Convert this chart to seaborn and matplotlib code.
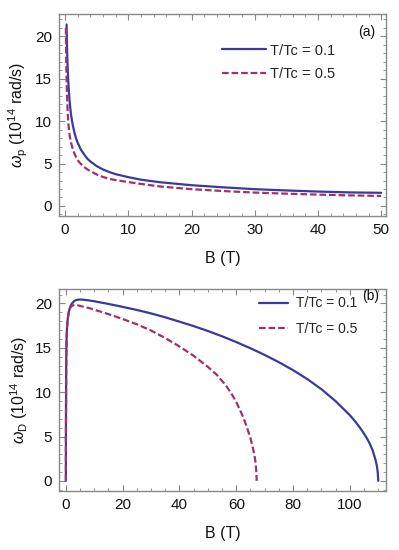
import numpy as np
import matplotlib
matplotlib.use('Agg')
import matplotlib.pyplot as plt
from matplotlib.ticker import MultipleLocator
import seaborn as sns

sns.set_style('ticks')
plt.rcParams['font.family'] = ['Liberation Sans', 'DejaVu Sans']
plt.rcParams['mathtext.fontset'] = 'custom'
plt.rcParams['mathtext.rm'] = 'Liberation Sans'
plt.rcParams['mathtext.it'] = 'Liberation Sans:italic'

# panel (a): plasma frequency vs B
b_a_solid = [0.24, 0.27, 0.3, 0.35, 0.4, 0.45, 0.5, 0.6, 0.7, 0.8, 0.9, 1, 1.2,
             1.5, 1.75, 2, 2.5, 3, 3.5, 4, 5, 6, 7, 8, 10, 12, 15, 20, 25, 30,
             35, 40, 45, 50]
wp_solid = [21.4, 20.2, 19.2, 17.75, 16.6, 15.65, 14.85, 13.55, 12.55, 11.75,
            11.05, 10.5, 9.6, 8.6, 7.95, 7.45, 6.65, 6.1, 5.6, 5.25, 4.7, 4.3,
            4.0, 3.75, 3.4, 3.1, 2.8, 2.45, 2.2, 1.98, 1.83, 1.7, 1.6, 1.55]
b_a_dash = [0.13, 0.15, 0.17, 0.2, 0.25, 0.3, 0.35, 0.4, 0.5, 0.6, 0.75, 1,
            1.25, 1.5, 2, 2.5, 3, 3.5, 4, 5, 6, 7, 8, 10, 12, 15, 20, 25, 30,
            35, 40, 45, 50]
wp_dash = [21.0, 19.5, 18.2, 16.6, 14.7, 13.3, 12.2, 11.3, 10.0, 9.1, 8.2, 7.3,
           6.65, 6.15, 5.4, 4.95, 4.6, 4.33, 4.1, 3.72, 3.42, 3.2, 3.05, 2.82,
           2.6, 2.3, 1.98, 1.76, 1.58, 1.45, 1.34, 1.25, 1.18]

# panel (b): omega_D vs B
b_b_solid = [0, 0.02, 0.05, 0.1, 0.15, 0.25, 0.4, 0.6, 1, 1.5, 2, 3, 4, 5, 6, 8,
             10, 15, 20, 25, 30, 35, 40, 45, 50, 55, 60, 65, 70, 75, 80, 85, 90,
             95, 100, 102, 104, 106, 107, 108, 109, 109.5, 109.8, 110]
wd_solid = [0, 5, 8, 12, 14, 16, 17.2, 18.1, 19.0, 19.6, 19.95, 20.3, 20.42,
            20.45, 20.43, 20.35, 20.25, 19.95, 19.62, 19.27, 18.88, 18.44, 17.95,
            17.45, 16.9, 16.3, 15.65, 14.95, 14.2, 13.38, 12.48, 11.48, 10.33,
            8.98, 7.4, 6.65, 5.8, 4.8, 4.2, 3.45, 2.4, 1.7, 1.0, 0]
b_b_dash = [0, 0.02, 0.05, 0.1, 0.15, 0.25, 0.4, 0.6, 1, 1.5, 2, 3, 4, 6, 8, 10,
            15, 20, 25, 30, 35, 40, 45, 50, 53, 56, 58, 60, 62, 63, 64, 65,
            65.5, 66, 66.5, 66.8, 67, 67.2]
wd_dash = [0, 4.5, 7, 11, 13.5, 15.7, 17.2, 18.2, 19.0, 19.5, 19.7, 19.85, 19.8,
           19.65, 19.5, 19.3, 18.8, 18.25, 17.65, 16.95, 16.1, 15.15, 14.1,
           12.85, 12.0, 10.9, 10.0, 8.9, 7.5, 6.7, 5.8, 4.8, 4.2, 3.5, 2.7,
           2.0, 1.3, 0]

labels = ['T/Tc = 0.1', 'T/Tc = 0.5']
c_solid = '#3a3a9c'
c_dash = '#a3306c'
ink = '#111111'

fig = plt.figure(figsize=(3.99, 5.5), dpi=100)
ax1 = fig.add_axes([0.148, 0.607, 0.820, 0.367])
ax2 = fig.add_axes([0.148, 0.107, 0.820, 0.367])

sns.lineplot(x=b_a_solid, y=wp_solid, ax=ax1, color=c_solid, lw=1.6, label=labels[0])
sns.lineplot(x=b_a_dash, y=wp_dash, ax=ax1, color=c_dash, lw=1.6, label=labels[1],
             linestyle=(0, (3, 1.3)))
sns.lineplot(x=b_b_solid, y=wd_solid, ax=ax2, color=c_solid, lw=1.6, label=labels[0])
sns.lineplot(x=b_b_dash, y=wd_dash, ax=ax2, color=c_dash, lw=1.6, label=labels[1],
             linestyle=(0, (3, 1.3)))

ax1.set_xlim(-0.95, 50.8)
ax1.set_ylim(-1.2, 22.6)
ax1.xaxis.set_major_locator(MultipleLocator(10))
ax1.xaxis.set_minor_locator(MultipleLocator(2))
ax2.set_xlim(-2.4, 112.8)
ax2.set_ylim(-1.16, 21.6)
ax2.xaxis.set_major_locator(MultipleLocator(20))
ax2.xaxis.set_minor_locator(MultipleLocator(5))

for ax in (ax1, ax2):
    ax.yaxis.set_major_locator(MultipleLocator(5))
    ax.yaxis.set_minor_locator(MultipleLocator(1))
    for s in ax.spines.values():
        s.set_visible(True)
        s.set_color('#888888')
        s.set_linewidth(1.0)
    ax.tick_params(which='both', direction='in', top=True, right=True,
                   color='#888888', labelsize=11, labelcolor=ink)
    ax.tick_params(which='major', length=4, width=0.8, pad=5)
    ax.tick_params(which='minor', length=2, width=0.6)
    ax.set_xlabel('B (T)', fontsize=11.5, labelpad=10, color=ink)

ax1.set_ylabel(r'$\mathit{\omega}_\mathrm{p}$ (10$^{14}$ rad/s)', fontsize=11.5,
               labelpad=4, color=ink)
ax2.set_ylabel(r'$\mathit{\omega}_\mathrm{D}$ (10$^{14}$ rad/s)', fontsize=11.5,
               labelpad=4, color=ink)

ax1.legend(loc='upper left', bbox_to_anchor=(0.498, 0.855), frameon=False,
           fontsize=10.5, handlelength=3.0, handletextpad=0.3, labelspacing=0.65,
           borderpad=0, borderaxespad=0)
ax2.legend(loc='upper left', bbox_to_anchor=(0.61, 0.965), frameon=False,
           fontsize=10, handlelength=2.1, handletextpad=0.6, labelspacing=0.85,
           borderpad=0, borderaxespad=0)

ax1.text(0.94, 0.91, '(a)', transform=ax1.transAxes, fontsize=10,
         ha='center', va='center', color=ink)
ax2.text(0.953, 0.965, '(b)', transform=ax2.transAxes, fontsize=10,
         ha='center', va='center', color=ink)

fig.savefig('out.png', dpi=100)
